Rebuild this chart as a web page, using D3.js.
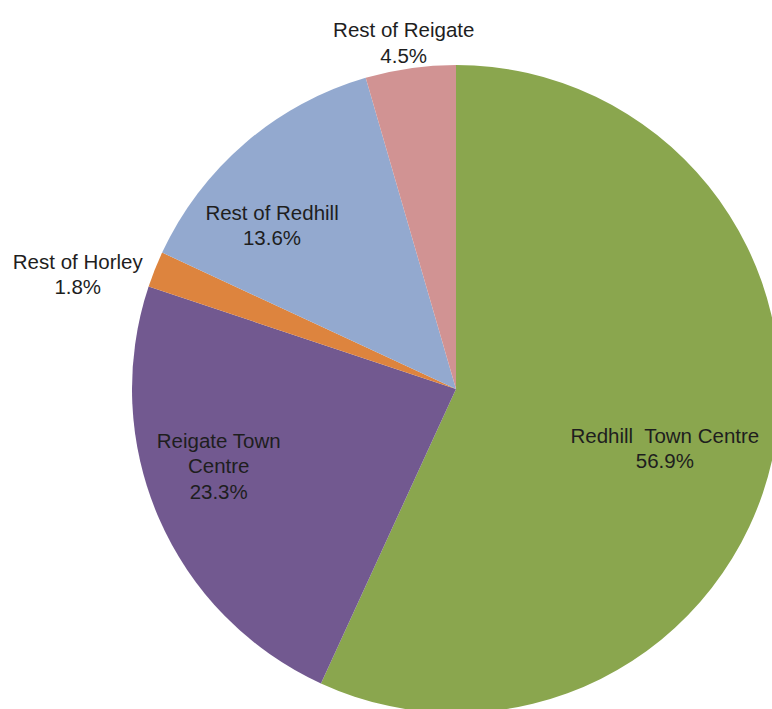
<!DOCTYPE html>
<html>
<head>
<meta charset="utf-8">
<script src="https://cdn.jsdelivr.net/npm/d3@7"></script>
<style>
  html, body { margin: 0; padding: 0; background: #ffffff; }
  svg { display: block; }
</style>
</head>
<body>
<svg id="chart" width="772" height="709"></svg>
<script>
// Share of total by area (percent), clockwise from 12 o'clock
const areas = ["Redhill Town Centre", "Reigate Town Centre", "Rest of Horley", "Rest of Redhill", "Rest of Reigate"];
const shares = [56.9, 23.3, 1.8, 13.6, 4.5];
// Label text lines for each area
const labelLines = [
  ["Redhill  Town Centre"],
  ["Reigate Town", "Centre"],
  ["Rest of Horley"],
  ["Rest of Redhill"],
  ["Rest of Reigate"]
];
const colours = ["#8AA64E", "#725990", "#DD843E", "#93A9CF", "#D19393"];

// Layout
const width = 772, height = 709;
const cx = 456, cy = 389, radius = 324;
// Label placement: radius fraction and angular nudge (degrees) per slice
const labelRadius = [0.67, 0.77, 1.22, 0.76, 1.08];
const labelNudge = [3.5, 5.5, -4.8, -7.7, -0.5];
const lineHeight = 25.5;
const fontSize = 20.5;

const svg = d3.select("#chart");
const g = svg.append("g").attr("transform", `translate(${cx},${cy})`);

const data = areas.map((a, i) => ({ area: a, value: shares[i], lines: labelLines[i], idx: i }));

const pie = d3.pie().value(d => d.value).sort(null);
const arc = d3.arc().innerRadius(0).outerRadius(radius);
const colour = d3.scaleOrdinal().domain(areas).range(colours);

const arcs = pie(data);

g.selectAll("path.slice")
  .data(arcs)
  .join("path")
  .attr("class", "slice")
  .attr("d", arc)
  .attr("fill", d => colour(d.data.area));

// Labels: name lines followed by the percentage
const fmt = d3.format(".1f");
g.selectAll("text.label")
  .data(arcs)
  .join("text")
  .attr("class", "label")
  .attr("text-anchor", "middle")
  .attr("font-family", "'Liberation Sans', Arial, sans-serif")
  .attr("font-size", fontSize)
  .attr("fill", "#1e1e1e")
  .each(function(d) {
    const i = d.data.idx;
    const mid = (d.startAngle + d.endAngle) / 2 + labelNudge[i] * Math.PI / 180;
    const r = radius * labelRadius[i];
    const x = r * Math.sin(mid);
    const y = -r * Math.cos(mid);
    const lines = d.data.lines.concat([fmt(d.data.value) + "%"]);
    const n = lines.length;
    const t = d3.select(this);
    lines.forEach((line, k) => {
      t.append("tspan")
        .attr("x", x)
        .attr("y", y + (k - (n - 1) / 2) * lineHeight + fontSize * 0.35)
        .style("white-space", "pre")
        .text(line);
    });
  });
</script>
</body>
</html>
